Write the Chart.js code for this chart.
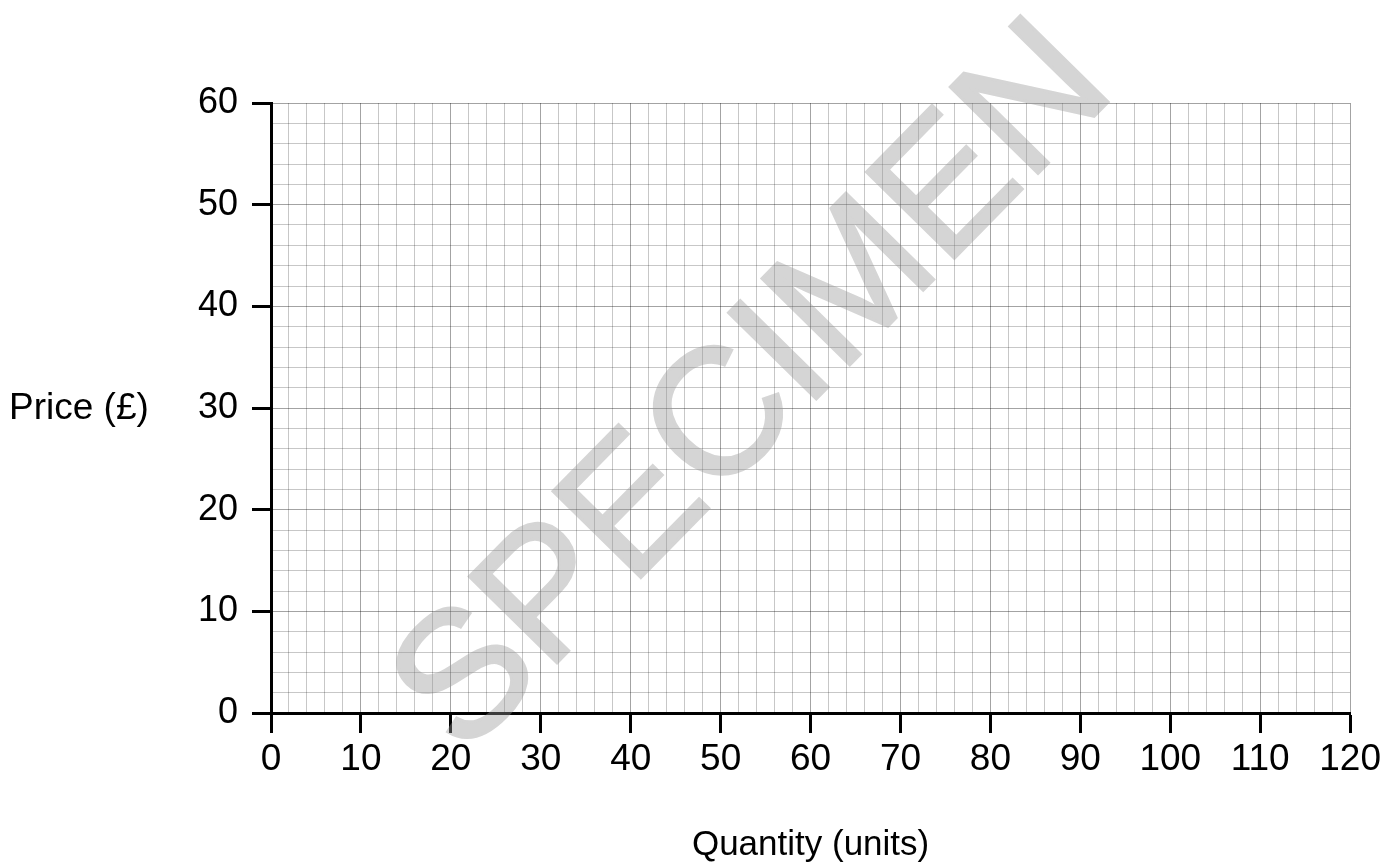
<!DOCTYPE html>
<html>
<head>
<meta charset="utf-8">
<script src="https://cdn.jsdelivr.net/npm/chart.js@4/dist/chart.umd.min.js"></script>
<style>
  html, body { margin: 0; padding: 0; background: #fff; overflow: hidden; }
  #mycanvas { display: block; }
</style>
</head>
<body>
<canvas id="mycanvas" width="1386" height="866"></canvas>
<script>
// blank answer grid - no plotted series yet
var quantity = [];
var price = [];
var xTicks = [0, 10, 20, 30, 40, 50, 60, 70, 80, 90, 100, 110, 120];
var yTicks = [0, 10, 20, 30, 40, 50, 60];
var xTitle = "Quantity (units)";
var yTitle = "Price (£)";
var watermark = "SPECIMEN";

var FONT = "'Liberation Sans', Arial, sans-serif";

function isMajor(v){ return v % 10 === 0; }

var extraText = {
  id: 'extraText',
  afterDraw: function(chart){
    var ctx = chart.ctx;
    var area = chart.chartArea;
    ctx.save();
    ctx.fillStyle = '#000';
    ctx.textBaseline = 'middle';
    ctx.textAlign = 'left';
    ctx.font = '37px ' + FONT;
    ctx.fillText(yTitle, 9, chart.scales.y.getPixelForValue(30) + 1);
    ctx.textAlign = 'center';
    ctx.font = '35px ' + FONT;
    ctx.fillText(xTitle, (area.left + area.right) / 2, 845);
    ctx.restore();

    // watermark: drawn solid on a side canvas, then laid over the grid
    var f = 179;
    var off = document.createElement('canvas');
    off.width = chart.width; off.height = chart.height;
    var o = off.getContext('2d');
    o.translate(745, 380);
    o.rotate(-45.5 * Math.PI / 180);
    o.font = f + 'px ' + FONT;
    o.fillStyle = '#969696';
    o.strokeStyle = '#969696';
    o.lineWidth = 3;
    o.lineJoin = 'miter';
    o.textAlign = 'center';
    o.textBaseline = 'alphabetic';
    o.fillText(watermark, 0, 0.358 * f);
    o.strokeText(watermark, 0, 0.358 * f);
    ctx.save();
    ctx.globalAlpha = 0.4;
    ctx.drawImage(off, 0, 0);
    ctx.restore();
  }
};

var ctx = document.getElementById("mycanvas").getContext('2d');
var chart = new Chart(ctx, {
  type: 'scatter',
  data: {
    datasets: [{
      label: 'demand',
      data: quantity.map(function(q, i){ return {x: q, y: price[i]}; }),
      showLine: true,
      borderColor: '#000'
    }]
  },
  options: {
    responsive: false,
    animation: false,
    layout: { padding: { top: 103, right: 35, left: 0, bottom: 0 } },
    plugins: { legend: { display: false }, tooltip: { enabled: false } },
    scales: {
      x: {
        type: 'linear',
        min: xTicks[0], max: xTicks[xTicks.length - 1],
        afterFit: function(s){ s.height = 153; },
        ticks: {
          stepSize: 2,
          autoSkip: false,
          maxRotation: 0,
          padding: 5,
          color: '#000',
          font: { family: FONT, size: 37 },
          callback: function(v){ return xTicks.indexOf(v) >= 0 ? String(v) : ''; }
        },
        grid: {
          color: function(c){ return isMajor(c.tick.value) ? 'rgba(0,0,0,0.36)' : 'rgba(0,0,0,0.22)'; },
          lineWidth: 1,
          tickLength: 20,
          tickColor: function(c){ return isMajor(c.tick.value) ? '#000' : 'rgba(0,0,0,0)'; },
          tickWidth: 3
        },
        border: { display: true, color: '#000', width: 3 }
      },
      y: {
        type: 'linear',
        min: yTicks[0], max: yTicks[yTicks.length - 1],
        afterFit: function(s){ s.width = 271; },
        ticks: {
          stepSize: 2,
          autoSkip: false,
          padding: 14,
          color: '#000',
          font: { family: FONT, size: 36 },
          callback: function(v){ return yTicks.indexOf(v) >= 0 ? String(v) : ''; }
        },
        grid: {
          color: function(c){ return isMajor(c.tick.value) ? 'rgba(0,0,0,0.36)' : 'rgba(0,0,0,0.22)'; },
          lineWidth: 1,
          tickLength: 19,
          tickColor: function(c){ return isMajor(c.tick.value) ? '#000' : 'rgba(0,0,0,0)'; },
          tickWidth: 3
        },
        border: { display: true, color: '#000', width: 3 }
      }
    }
  },
  plugins: [extraText]
});
</script>
</body>
</html>
